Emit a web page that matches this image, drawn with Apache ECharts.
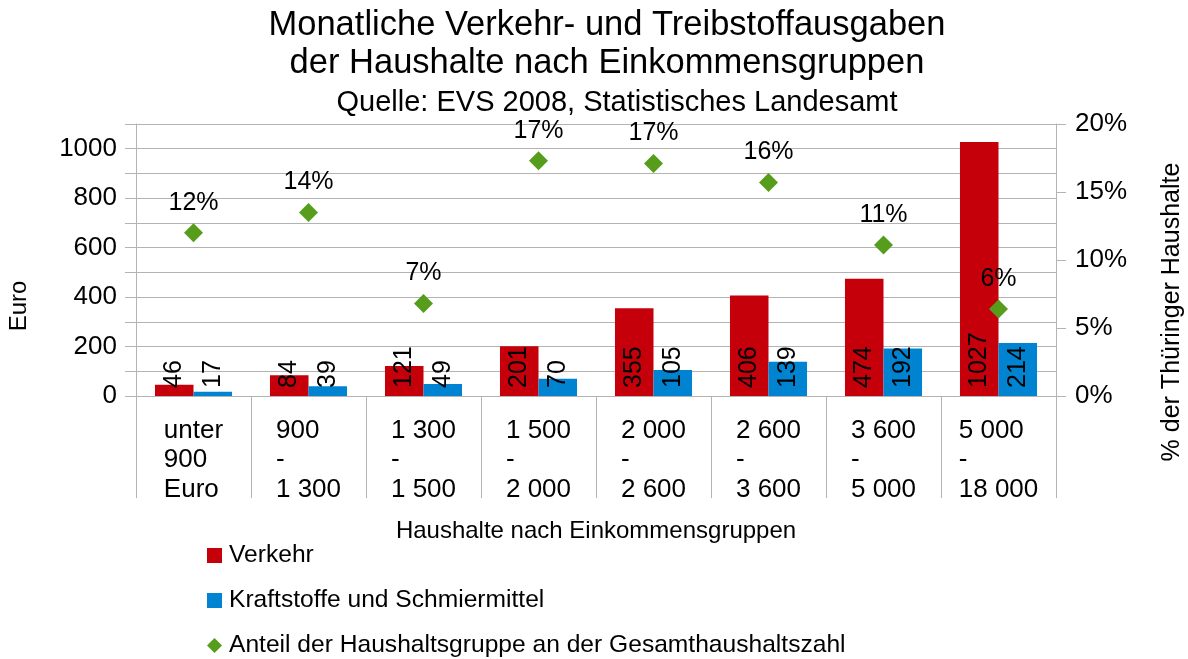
<!DOCTYPE html>
<html lang="de">
<head>
    <meta charset="UTF-8">
    <title>Verkehr- und Treibstoffausgaben</title>
    <script src="https://cdn.jsdelivr.net/npm/echarts@6/dist/echarts.min.js"></script>
    <style>
        html, body { margin: 0; padding: 0; background: #fff; }
        #chart { width: 1188px; height: 659px; }
    </style>
</head>
<body>
<div id="chart"></div>
<script>
    // Einkommensgruppen (x-Achse)
    let categories = ['unter\n900\nEuro', '900\n-\n1 300', '1 300\n-\n1 500', '1 500\n-\n2 000',
        '2 000\n-\n2 600', '2 600\n-\n3 600', '3 600\n-\n5 000', '5 000\n-\n18 000'];
    // Euro pro Monat
    let verkehr = [46, 84, 121, 201, 355, 406, 474, 1027];
    let kraftstoffe = [17, 39, 49, 70, 105, 139, 192, 214];
    // Anteil an allen Haushalten in %
    let anteil = [12.0, 13.5, 6.8, 17.3, 17.1, 15.7, 11.1, 6.4];

    let font = 'Liberation Sans, Arial, sans-serif';
    let gridColor = '#b3b3b3';

    let chart = echarts.init(document.getElementById('chart'));

    let barLabel = {
        show: true,
        position: 'insideBottom',
        rotate: 90,
        align: 'left',
        verticalAlign: 'middle',
        distance: 8,
        color: '#000',
        fontSize: 25,
        fontFamily: font
    };

    let option = {
        animation: false,
        backgroundColor: '#fff',
        textStyle: { fontFamily: font },
        title: [{
            text: 'Monatliche Verkehr- und Treibstoffausgaben\nder Haushalte nach Einkommensgruppen',
            left: 607,
            textAlign: 'center',
            top: 6,
            padding: 0,
            textStyle: { fontSize: 34.5, fontWeight: 'normal', color: '#000', lineHeight: 38, fontFamily: font }
        }, {
            text: 'Quelle: EVS 2008, Statistisches Landesamt',
            left: 617,
            textAlign: 'center',
            top: 88,
            padding: 0,
            textStyle: { fontSize: 29, fontWeight: 'normal', color: '#000', lineHeight: 29, fontFamily: font }
        }],
        legend: {
            orient: 'vertical',
            left: 207,
            top: 543,
            padding: 0,
            itemWidth: 15,
            itemHeight: 15,
            itemGap: 20,
            textStyle: { fontSize: 24.6, color: '#000', lineHeight: 25, padding: [0, 0, 0, 2], fontFamily: font },
            data: [
                { name: 'Verkehr', icon: 'rect' },
                { name: 'Kraftstoffe und Schmiermittel', icon: 'rect' },
                { name: 'Anteil der Haushaltsgruppe an der Gesamthaushaltszahl', icon: 'diamond' }
            ]
        },
        grid: {
            left: 136,
            right: 132,
            top: 124,
            bottom: 263,
            containLabel: false,
            outerBoundsMode: 'none'
        },
        xAxis: {
            type: 'category',
            data: categories,
            boundaryGap: true,
            name: 'Haushalte nach Einkommensgruppen',
            nameLocation: 'middle',
            nameGap: 123,
            nameTextStyle: { fontSize: 24, color: '#000', fontFamily: font },
            axisLine: { show: true, lineStyle: { color: gridColor } },
            axisTick: { show: true, interval: 0, length: 102, alignWithLabel: false, lineStyle: { color: gridColor } },
            axisLabel: {
                interval: 0,
                margin: 20,
                color: '#000',
                formatter: function (v) {
                    return v.split('\n').map(function (s) { return '{a|' + s + '}'; }).join('\n');
                },
                rich: {
                    a: { fontSize: 26, lineHeight: 29.5, align: 'left', color: '#000', fontFamily: font }
                }
            },
            splitLine: { show: false }
        },
        yAxis: [{
            type: 'value',
            min: 0,
            max: 1100,
            interval: 100,
            name: 'Euro',
            nameLocation: 'middle',
            nameGap: 105,
            nameMoveOverlap: false,
            nameTextStyle: { fontSize: 24, color: '#000', padding: [0, 92, 0, 0], fontFamily: font },
            axisLine: { show: true, lineStyle: { color: gridColor } },
            axisTick: { show: true, length: 11, lineStyle: { color: gridColor } },
            axisLabel: {
                margin: 19,
                fontSize: 26,
                color: '#000',
                formatter: function (v) { return v % 200 === 0 ? String(v) : ''; }
            },
            splitLine: { show: true, lineStyle: { color: gridColor, width: 1 } }
        }, {
            type: 'value',
            position: 'right',
            min: 0,
            max: 20,
            interval: 5,
            name: '% der Thüringer Haushalte',
            nameLocation: 'middle',
            nameGap: 104,
            nameMoveOverlap: false,
            nameTextStyle: { fontSize: 25, color: '#000', padding: [0, 104, 0, 0], fontFamily: font },
            axisLine: { show: true, lineStyle: { color: gridColor } },
            axisTick: { show: true, length: 10, lineStyle: { color: gridColor } },
            axisLabel: {
                margin: 19,
                fontSize: 26,
                color: '#000',
                formatter: function (v) { return v + '%'; }
            },
            splitLine: { show: false }
        }],
        series: [{
            name: 'Verkehr',
            type: 'bar',
            data: verkehr,
            itemStyle: { color: '#c5000b' },
            barGap: '0%',
            barCategoryGap: '33%',
            label: barLabel
        }, {
            name: 'Kraftstoffe und Schmiermittel',
            type: 'bar',
            data: kraftstoffe,
            itemStyle: { color: '#0084d1' },
            barGap: '0%',
            barCategoryGap: '33%',
            label: barLabel
        }, {
            name: 'Anteil der Haushaltsgruppe an der Gesamthaushaltszahl',
            type: 'scatter',
            yAxisIndex: 1,
            data: anteil,
            symbol: 'diamond',
            symbolSize: 19,
            itemStyle: { color: '#579d1c', opacity: 1 },
            z: 5,
            label: {
                show: true,
                position: 'top',
                distance: 8,
                color: '#000',
                opacity: 1,
                fontSize: 25,
                fontFamily: font,
                formatter: function (p) { return Math.round(p.value) + '%'; }
            }
        }]
    };

    chart.setOption(option);
</script>
</body>
</html>
